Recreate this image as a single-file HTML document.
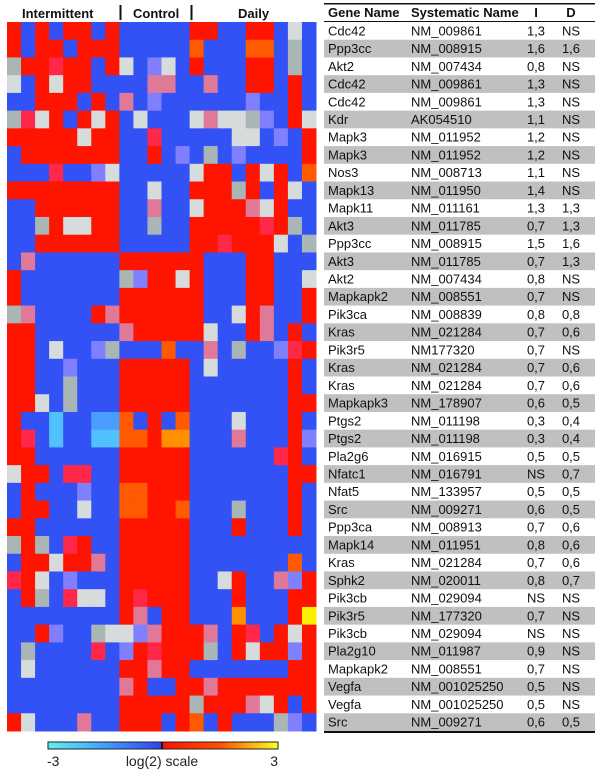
<!DOCTYPE html>
<html><head><meta charset="utf-8"><style>
body{margin:0;background:#fff;width:600px;height:770px;overflow:hidden;font-family:"Liberation Sans",Arial,sans-serif}
svg{position:absolute;left:0;top:0}
</style></head><body>
<svg id="chart" width="600" height="770">
<g id="hm"></g>
<g font-weight="bold" font-size="13" fill="#111">
<text x="22" y="18">Intermittent</text>
<rect x="119.5" y="5" width="2" height="15" fill="#111"/>
<text x="133" y="18">Control</text>
<rect x="190.5" y="5" width="2" height="15" fill="#111"/>
<text x="238" y="18">Daily</text>
</g>
<defs>
<linearGradient id="gb" x1="0" x2="1"><stop offset="0" stop-color="#60f0f0"/><stop offset="0.5" stop-color="#40a0ff"/><stop offset="1" stop-color="#3040f0"/></linearGradient>
<linearGradient id="gr" x1="0" x2="1"><stop offset="0" stop-color="#ff1000"/><stop offset="0.5" stop-color="#ff5000"/><stop offset="1" stop-color="#ffff20"/></linearGradient>
</defs>
<g>
<rect x="48" y="742" width="114" height="7" fill="url(#gb)"/>
<rect x="162" y="742" width="116" height="7" fill="url(#gr)"/>
<rect x="48" y="742" width="230" height="7" fill="none" stroke="#222" stroke-width="1"/>
<line x1="162" y1="742" x2="162" y2="749" stroke="#000" stroke-width="1.5"/>
<text x="47" y="766" font-size="14" fill="#222">-3</text>
<text x="162" y="766" font-size="14" fill="#222" text-anchor="middle">log(2) scale</text>
<text x="278" y="766" font-size="14" fill="#222" text-anchor="end">3</text>
</g>
<g id="tbl" font-size="13" fill="#111"></g>
</svg>
<script>
const rows = [
"RBRBRRBR"+"BBBBB"+"RRBBRRBWB",
"RBRRBRRR"+"BBBBB"+"OBBBOOBGB",
"GRRrRRBR"+"WBLWB"+"RBBBRRBGB",
"WBRWRRBB"+"BBPPB"+"BPBBRRBRB",
"BBRRRBRB"+"PBLBB"+"BBBBLBBRB",
"GrWRBRWR"+"BWBBB"+"WPWWGLBRW",
"RRRRRWRR"+"BBrBB"+"BBBWWBLBR",
"BRRRRRRR"+"BBRBL"+"BGBLBBBBR",
"BBBrBBLW"+"BBBBB"+"WRRBRWRBO",
"RRRRRRRR"+"BBWBB"+"RRRGRBRWB",
"BBRRRRRR"+"BBPBB"+"WRRRPWRBB",
"BBGRWWRR"+"BBGBB"+"RRRRRrRGB",
"BBRRRRRR"+"BBBBB"+"RRrRRRWBG",
"BPBBBBBB"+"RRRRR"+"RBBBRRBBB",
"RBBBBBBB"+"GLRRW"+"RBBBRRBBW",
"RBBBBBBB"+"RRRRR"+"RBBBRRBBR",
"GPBBBBRP"+"RRRRR"+"RBBWRPBBR",
"RRBBBBBB"+"PRRRR"+"RWBBRPBRB",
"RRBWBBLG"+"BBBOB"+"BPBGBBLrR",
"RRBBLBBB"+"RRRRR"+"BWBBBBBRB",
"RRBBGBBB"+"RRRRR"+"BBBBBBBRB",
"RRWBGBBB"+"RRRRR"+"BBBBBBBRR",
"RBBCBBDD"+"OBRBO"+"BBBWBBBRB",
"RrBCBBCC"+"OORAA"+"BBBPBBBRL",
"RRBBBBBB"+"RRRRR"+"BBBBBBrRB",
"WRRBrrBB"+"RRRRR"+"BBBBBBBRR",
"BRBBBLBB"+"OORRR"+"BBBBBBBRB",
"BRRBBWBB"+"OORRO"+"BBBGBBBRB",
"RRBBBBBB"+"RRRRR"+"BBBRBBBRB",
"GRGBrRBB"+"RRRRR"+"BBBBBBBBB",
"BRRWRRPB"+"RRRRR"+"BBBBBBBOB",
"rRWBLBBB"+"RRRRR"+"BBWRBBPLR",
"BRGBrWWB"+"RrRRR"+"BBBRBBBRR",
"BBBBBBBB"+"RPBRR"+"BBBABBBRY",
"BBRLBBGW"+"WLPRR"+"RPBRrBRWR",
"BGBBBBrB"+"LRrRR"+"RGBRWRRLR",
"BWBBBBBB"+"RRPRR"+"BBBBBBBRR",
"BBBBBBBB"+"PRBBR"+"RPRRRRRRR",
"BBBBBBBB"+"RRRRR"+"GRRRPWRBR",
"RWBBBPBB"+"RRRBR"+"OBRBBBGLB"
];
const palette = {R:"#ff1400",B:"#3352f5",G:"#aab5b5",W:"#d6dcdc",P:"#e07898",L:"#8080ff",r:"#ff2848",O:"#ff5a00",A:"#ff9000",C:"#50c0ff",D:"#4a9cff",Y:"#f8f000"};
const genes = ["Cdc42","Ppp3cc","Akt2","Cdc42","Cdc42","Kdr","Mapk3","Mapk3","Nos3","Mapk13","Mapk11","Akt3","Ppp3cc","Akt3","Akt2","Mapkapk2","Pik3ca","Kras","Pik3r5","Kras","Kras","Mapkapk3","Ptgs2","Ptgs2","Pla2g6","Nfatc1","Nfat5","Src","Ppp3ca","Mapk14","Kras","Sphk2","Pik3cb","Pik3r5","Pik3cb","Pla2g10","Mapkapk2","Vegfa","Vegfa","Src"];
const sysNames = ["NM_009861","NM_008915","NM_007434","NM_009861","NM_009861","AK054510","NM_011952","NM_011952","NM_008713","NM_011950","NM_011161","NM_011785","NM_008915","NM_011785","NM_007434","NM_008551","NM_008839","NM_021284","NM177320","NM_021284","NM_021284","NM_178907","NM_011198","NM_011198","NM_016915","NM_016791","NM_133957","NM_009271","NM_008913","NM_011951","NM_021284","NM_020011","NM_029094","NM_177320","NM_029094","NM_011987","NM_008551","NM_001025250","NM_001025250","NM_009271"];
const valI = ["1,3","1,6","0,8","1,3","1,3","1,1","1,2","1,2","1,1","1,4","1,3","0,7","1,5","0,7","0,8","0,7","0,8","0,7","0,7","0,7","0,7","0,6","0,3","0,3","0,5","NS","0,5","0,6","0,7","0,8","0,7","0,8","NS","0,7","NS","0,9","0,7","0,5","0,5","0,6"];
const valD = ["NS","1,6","NS","NS","NS","NS","NS","NS","NS","NS","1,3","1,3","1,6","1,3","NS","NS","0,8","0,6","NS","0,6","0,6","0,5","0,4","0,4","0,5","0,7","0,5","0,5","0,6","0,6","0,6","0,7","NS","NS","NS","NS","NS","NS","NS","0,5"];
const NS="http://www.w3.org/2000/svg";
const X0=7,X1=316,Y0=22,Y1=731;
const nCols=rows[0].length, nRows=rows.length;
const cw=(X1-X0)/nCols, rh=(Y1-Y0)/nRows;
const xPos=c=>X0+c*cw, yPos=r=>Y0+r*rh;
const hm=document.getElementById('hm');
rows.forEach((row,r)=>{
  for(let c=0;c<nCols;c++){
    const el=document.createElementNS(NS,'rect');
    el.setAttribute('x',xPos(c));el.setAttribute('y',yPos(r));
    el.setAttribute('width',cw+0.5);el.setAttribute('height',rh+0.5);
    el.setAttribute('fill',palette[row[c]]);
    
    
    hm.appendChild(el);
  }
});
const tbl=document.getElementById('tbl');
const TX0=324,TX1=595;
function add(tag,attrs,txt){const e=document.createElementNS(NS,tag);for(const k in attrs)e.setAttribute(k,attrs[k]);if(txt!==undefined)e.textContent=txt;tbl.appendChild(e);return e;}
genes.forEach((g,i)=>{
  const y=yPos(i);
  if(i%2===1){const b=add('rect',{x:TX0,y:y,width:TX1-TX0,height:rh,fill:'#c0c0c0'});
    
    }
  const ty=y+rh/2+4.5;
  const t1=add('text',{x:328,y:ty},g);
  
  
  const t2=add('text',{x:411,y:ty},sysNames[i]);
  
  
  const t3=add('text',{x:536,y:ty,'text-anchor':'middle'},valI[i]);
  
  
  const t4=add('text',{x:571,y:ty,'text-anchor':'middle'},valD[i]);
  
  
});
const hdr=[["Gene Name",328,"start"],["Systematic Name",411,"start"],["I",536,"middle"],["D",571,"middle"]];
hdr.forEach(h=>{const t=add('text',{x:h[1],y:17,'font-weight':'bold','text-anchor':h[2]},h[0]);
  
  });
add('rect',{x:TX0,y:3,width:TX1-TX0,height:1.5,fill:'#111'});
add('rect',{x:TX0,y:21,width:TX1-TX0,height:1,fill:'#111'});
add('rect',{x:TX0,y:Y1,width:TX1-TX0,height:2,fill:'#111'});
</script>
</body></html>
